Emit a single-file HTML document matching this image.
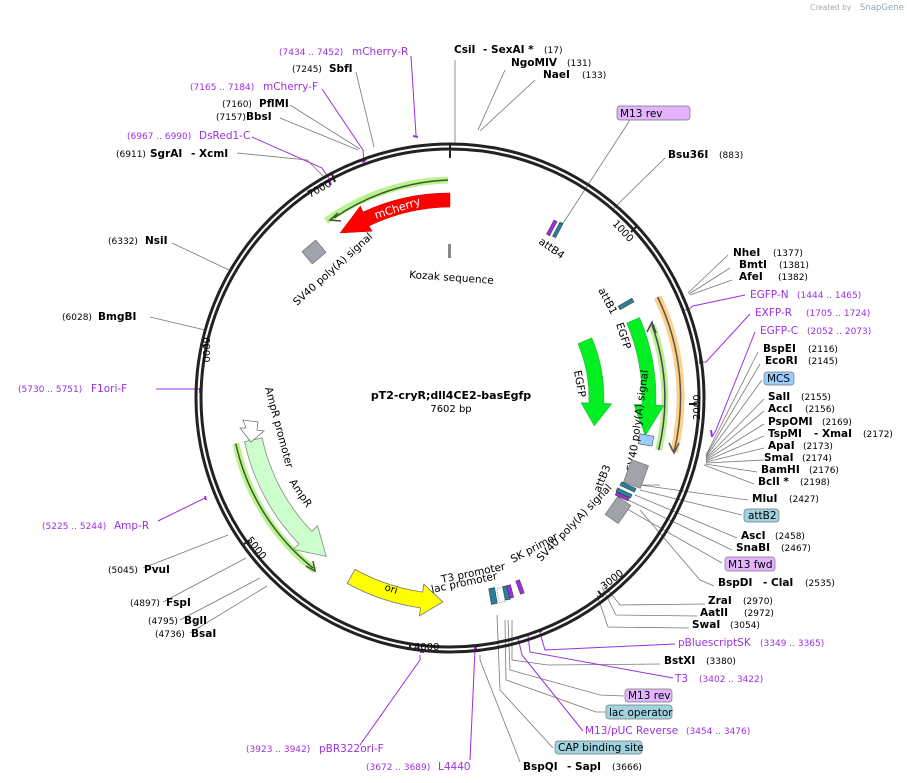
<!DOCTYPE html>
<html><head><meta charset="utf-8"><style>
html,body{margin:0;padding:0;background:#fff;}
svg{display:block;font-family:"DejaVu Sans","Liberation Sans",sans-serif;}
.b{font-weight:bold;font-size:10.5px;fill:#000;}
.n{font-size:9px;fill:#000;}
.p{font-size:9px;fill:#9b30e0;}
.pn{font-size:10.5px;fill:#9b30e0;}
.f{font-size:10.5px;fill:#000;}
.g{stroke:#777;stroke-width:0.8;fill:none;}
.pl{stroke:#9b30e0;stroke-width:1;fill:none;}
</style></head><body>
<svg width="907" height="783" viewBox="0 0 907 783" xmlns="http://www.w3.org/2000/svg">
<rect width="907" height="783" fill="#fff"/>
<text x="810" y="10" font-size="7.5" fill="#aaa">Created by</text><text x="860" y="10" font-size="8.5" fill="#8ab">SnapGene</text>

<g class="g">
<path d="M455,143 L455,60"/>
<path d="M478,130 L505,70"/>
<path d="M480,131 L535,80"/>
<path d="M560,228 L630,120"/>
<path d="M612,210 L665,158"/>
<path d="M688,293 L728,255"/><path d="M689,294 L730,268"/><path d="M690,295 L732,280"/>
<path d="M706,455 L758,352"/><path d="M706,456 L760,364"/><path d="M706,457 L762,380"/>
<path d="M706,458 L764,399"/><path d="M706,459 L764,411"/><path d="M706,460 L764,424"/>
<path d="M706,461 L764,436"/><path d="M706,462 L764,448"/><path d="M706,463 L764,460"/>
<path d="M705,464 L757,472"/><path d="M704,465 L754,484"/>
<path d="M660,485 L640,485 L748,500"/>
<path d="M640,490 L742,515"/>
<path d="M635,495 L737,538"/><path d="M628,500 L732,550"/>
<path d="M620,505 L722,563"/><path d="M640,510 L700,580 L714,586"/>
<path d="M604,585 L620,605 L705,604"/><path d="M602,587 L616,615 L697,616"/><path d="M597,595 L608,627 L689,628"/>
<path d="M512,620 L512,660 L548,665 L660,664"/>
<path d="M508,620 L510,670 L600,695 L624,696"/>
<path d="M505,620 L506,680 L596,712 L606,712"/>
<path d="M497,615 L500,690 L553,748"/>
<path d="M480,655 L480,660 L520,762"/>
<path d="M267,586 L190,633"/><path d="M260,578 L180,620"/><path d="M246,558 L163,602"/><path d="M228,535 L143,568"/>
<path d="M229,270 L172,243"/>
<path d="M205,330 L150,317"/>
<path d="M325,178 L307,160 L237,153"/>
<path d="M358,150 L280,118"/><path d="M360,149 L290,105"/>
<path d="M374,147 L356,72"/>
</g>
<g class="pl">
<path d="M416,137 L416,135 L411,56"/>
<path d="M364,163 L363,150 L322,89"/>
<path d="M330,180 L322,168 L252,137"/>
<path d="M200,392 L200,389 L156,389"/>
<path d="M205,498 L158,521"/>
<path d="M683,310 L688,310 L693,306 L745,295"/>
<path d="M700,362 L706,362 L750,314"/>
<path d="M712,437 L716,430 L755,332"/>
<path d="M540,633 L545,650 L675,644"/>
<path d="M528,636 L530,652 L673,678"/>
<path d="M518,638 L522,655 L583,731"/>
<path d="M475,650 L470,760"/>
<path d="M420,655 L420,660 L360,745"/>
</g>
<g stroke="#9b30e0" stroke-width="2" fill="none">
<path d="M413,136 L418,137"/><path d="M362,162 L366,160"/><path d="M329,179 L331,185"/>
<path d="M200,388 L200,393"/><path d="M205,496 L206,500"/>
<path d="M683,308 L683,313"/><path d="M700,358 L700,364"/><path d="M711,430 L712,437"/>
<path d="M474,648 L477,648"/><path d="M420,652 L424,652"/><path d="M517,638 L520,637"/><path d="M527,635 L531,634"/><path d="M539,632 L542,631"/>
</g>

<circle cx="450" cy="398" r="254" fill="none" stroke="#222" stroke-width="3"/>
<circle cx="450" cy="398" r="249" fill="none" stroke="#222" stroke-width="3"/>
<g stroke="#222" stroke-width="2">
<path d="M450,144 L450,158"/>
<path d="M637,226 L631,232"/><path d="M697,404 L689,404"/><path d="M603,597 L598,591"/>
<path d="M410,650 L410,643"/><path d="M244,544 L250,540"/><path d="M200,345 L207,346"/><path d="M332,174 L335,182"/>
</g>
<g font-size="10" fill="#000">
<text transform="translate(612,224) rotate(47)">1000</text>
<text transform="translate(700,420) rotate(-90)">2000</text>
<text transform="translate(604,590) rotate(-38)">3000</text>
<text x="414" y="650">4000</text>
<text transform="translate(246,540) rotate(52)">5000</text>
<text transform="translate(203,337) rotate(90)">6000</text>
<text transform="translate(310,198) rotate(-30)">7000</text>
</g>

<path d="M448,180 A218,218 0 0 0 326,221" stroke="#b9f28f" stroke-width="7" fill="none"/>
<path d="M448,180 A218,218 0 0 0 334,218" stroke="#3a5a2a" stroke-width="1.5" fill="none"/>
<path d="M338,213 L330,220 L341,221" stroke="#3a5a2a" stroke-width="1.5" fill="none"/>
<path d="M450,193 A205,205 0 0 0 363,212 L360.4,205.9 L340,233 L372.2,231.2 L369,226 A191,191 0 0 1 450,207 Z" fill="#ff0000" stroke="#c00" stroke-width="0.5"/>
<text transform="translate(376,219) rotate(-18)" font-size="11" fill="#fff">mCherry</text>
<rect x="448" y="244" width="3" height="14" fill="#888"/>
<text transform="translate(409,278) rotate(4)" class="f">Kozak sequence</text>
<rect x="-9" y="-8" width="18" height="16" fill="#a0a4aa" stroke="#666" stroke-width="0.6" transform="translate(314,252) rotate(-40)"/>
<text transform="translate(297,306) rotate(-42)" class="f">SV40 poly(A) signal</text>

<path d="M652,325 A215,215 0 0 1 658.6,450" stroke="#b9f28f" stroke-width="7" fill="none"/>
<path d="M652,325 A215,215 0 0 1 658.6,450" stroke="#445" stroke-width="1.5" fill="none"/>
<path d="M647,332 L652,322 L656,333" stroke="#445" stroke-width="1.5" fill="none"/>
<path d="M657.6,297 A231,231 0 0 1 674,452" stroke="#ffd08a" stroke-width="8" fill="none"/>
<path d="M657.6,297 A231,231 0 0 1 674,452" stroke="#555" stroke-width="1.5" fill="none"/>
<path d="M669,443 L674,453 L679,443" stroke="#555" stroke-width="1.5" fill="none"/>
<path d="M639.6,317.5 A206,206 0 0 1 655.9,405.2 L663.9,405.5 L645.3,436 L633.9,404.4 L641.9,404.7 A192,192 0 0 0 626.7,323 Z" fill="#00ee22" stroke="#3a3" stroke-width="0.5"/>
<path d="M591.8,337.8 A154,154 0 0 1 603.9,403.4 L611.9,403.7 L594.3,426 L580.9,402.6 L588.9,402.9 A139,139 0 0 0 578,343.7 Z" fill="#00ee22" stroke="#3a3" stroke-width="0.5"/>
<text transform="translate(616,324) rotate(72)" class="f">EGFP</text>
<text transform="translate(574,371) rotate(80)" class="f">EGFP</text>
<rect x="-7" y="-5" width="14" height="10" fill="#99ccff" stroke="#555" stroke-width="0.6" transform="translate(646,440) rotate(10)"/>
<text transform="translate(634,472) rotate(-82)" class="f">SV40 poly(A) signal</text>
<rect x="-9" y="-12" width="18" height="24" fill="#a0a4aa" stroke="#666" stroke-width="0.6" transform="translate(636,474) rotate(20)"/>
<rect x="-8" y="-11" width="16" height="22" fill="#a0a4aa" stroke="#666" stroke-width="0.6" transform="translate(618,510) rotate(35)"/>
<rect x="-8" y="-2" width="16" height="4" fill="#2a7f9a" stroke="#333" stroke-width="0.5" transform="translate(628,487) rotate(25)"/>
<rect x="-8" y="-2" width="16" height="4" fill="#2a7f9a" stroke="#333" stroke-width="0.5" transform="translate(624,493) rotate(25)"/>
<rect x="-7" y="-2" width="14" height="3" fill="#9b30e0" stroke="#333" stroke-width="0.5" transform="translate(622,497) rotate(25)"/>
<text transform="translate(600,493) rotate(-68)" class="f">attB3</text>
<text transform="translate(541,562) rotate(-46)" class="f">SV40 poly(A) signal</text>
<rect x="-8" y="-2" width="16" height="4" fill="#2a7f9a" stroke="#333" stroke-width="0.5" transform="translate(626,304) rotate(-30)"/>
<text transform="translate(598,290) rotate(62)" class="f">attB1</text>
<rect x="-8" y="-2" width="16" height="3.5" fill="#9b30e0" stroke="#333" stroke-width="0.5" transform="translate(552,228) rotate(-62)"/>
<rect x="-8" y="-2" width="16" height="3.5" fill="#2a7f9a" stroke="#333" stroke-width="0.5" transform="translate(558,230) rotate(-62)"/>
<text transform="translate(538,243) rotate(35)" class="f">attB4</text>

<path d="M235.8,443.5 A219,219 0 0 0 315.2,570.6" stroke="#b9f28f" stroke-width="7" fill="none"/>
<path d="M235.8,443.5 A219,219 0 0 0 313,568" stroke="#3a5a2a" stroke-width="1.5" fill="none"/>
<path d="M306,566 L315,571 L313,561" stroke="#3a5a2a" stroke-width="1.5" fill="none"/>
<path d="M244.6,441.7 A210,210 0 0 0 299,543.9 L293.2,549.4 L326.2,556.4 L317.6,525.8 L311.9,531.4 A192,192 0 0 1 262.2,437.9 Z" fill="#ccffcc" stroke="#888" stroke-width="0.8"/>
<path d="M243,420 L258,422 L257,430 L264,431 L251,442 L240,428 L246,428 Z" fill="#fff" stroke="#777" stroke-width="0.8"/>
<text transform="translate(265,388) rotate(75)" class="f">AmpR promoter</text>
<text transform="translate(289,482) rotate(56)" class="f">AmpR</text>
<path d="M347.2,583.4 A212,212 0 0 0 420.5,607.9 L419.4,615.9 L442.9,601.9 L423.8,584.2 L422.7,592.1 A196,196 0 0 1 355,569.4 Z" fill="#ffff00" stroke="#777" stroke-width="0.8"/>
<text transform="translate(384,590) rotate(18)" font-size="10">ori</text>
<rect x="490" y="588" width="6" height="16" fill="#2a7f9a" stroke="#333" stroke-width="0.5" transform="rotate(-10 493 596)"/>
<rect x="498" y="588" width="6" height="14" fill="#fff" stroke="#555" stroke-width="0.5" stroke-dasharray="1.5,1" transform="rotate(-10 501 595)"/>
<rect x="504" y="586" width="5" height="14" fill="#2a7f9a" stroke="#333" stroke-width="0.5" transform="rotate(-12 506 593)"/>
<rect x="508" y="585" width="4" height="13" fill="#9b30e0" stroke="#333" stroke-width="0.5" transform="rotate(-14 510 591)"/>
<rect x="518" y="580" width="4" height="14" fill="#9b30e0" stroke="#333" stroke-width="0.5" transform="rotate(-20 520 587)"/>
<text transform="translate(442,583) rotate(-12)" class="f">T3 promoter</text>
<text transform="translate(432,593) rotate(-12)" class="f">lac promoter</text>
<text transform="translate(513,563) rotate(-28)" class="f">SK primer</text>

<text x="451" y="399" text-anchor="middle" font-weight="bold" font-size="11">pT2-cryR;dll4CE2-basEgfp</text>
<text x="451" y="412" text-anchor="middle" font-size="10">7602 bp</text>

<text x="279" y="55" class="p">(7434 .. 7452)</text><text x="352" y="55" class="pn">mCherry-R</text>
<text x="292" y="72" class="n">(7245)</text><text x="329" y="72" class="b">SbfI</text>
<text x="190" y="90" class="p">(7165 .. 7184)</text><text x="263" y="90" class="pn">mCherry-F</text>
<text x="222" y="107" class="n">(7160)</text><text x="259" y="107" class="b">PflMI</text>
<text x="216" y="120" class="n">(7157)</text><text x="246" y="120" class="b">BbsI</text>
<text x="127" y="139" class="p">(6967 .. 6990)</text><text x="199" y="139" class="pn">DsRed1-C</text>
<text x="116" y="157" class="n">(6911)</text><text x="150" y="157" class="b">SgrAI</text><text x="191" y="157" class="b">- XcmI</text>
<text x="108" y="244" class="n">(6332)</text><text x="145" y="244" class="b">NsiI</text>
<text x="62" y="320" class="n">(6028)</text><text x="98" y="320" class="b">BmgBI</text>
<text x="18" y="392" class="p">(5730 .. 5751)</text><text x="91" y="392" class="pn">F1ori-F</text>
<text x="42" y="529" class="p">(5225 .. 5244)</text><text x="114" y="529" class="pn">Amp-R</text>
<text x="108" y="573" class="n">(5045)</text><text x="144" y="573" class="b">PvuI</text>
<text x="130" y="606" class="n">(4897)</text><text x="166" y="606" class="b">FspI</text>
<text x="148" y="624" class="n">(4795)</text><text x="184" y="624" class="b">BglI</text>
<text x="155" y="637" class="n">(4736)</text><text x="191" y="637" class="b">BsaI</text>
<text x="246" y="752" class="p">(3923 .. 3942)</text><text x="319" y="752" class="pn">pBR322ori-F</text>
<text x="366" y="770" class="p">(3672 .. 3689)</text><text x="438" y="770" class="pn">L4440</text>
<text x="523" y="770" class="b">BspQI</text><text x="567" y="770" class="b">- SapI</text><text x="612" y="770" class="n">(3666)</text>

<text x="454" y="53" class="b">CsiI</text><text x="483" y="53" class="b">- SexAI *</text><text x="544" y="53" class="n">(17)</text>
<text x="511" y="66" class="b">NgoMIV</text><text x="567" y="66" class="n">(131)</text>
<text x="543" y="78" class="b">NaeI</text><text x="582" y="78" class="n">(133)</text>
<rect x="617" y="106" width="73" height="14" rx="3" fill="#e3b3ff" stroke="#777" stroke-width="0.7"/><text x="620" y="117" font-size="10.5">M13 rev</text>
<text x="668" y="158" class="b">Bsu36I</text><text x="719" y="158" class="n">(883)</text>

<text x="733" y="256" class="b">NheI</text><text x="773" y="256" class="n">(1377)</text>
<text x="739" y="268" class="b">BmtI</text><text x="779" y="268" class="n">(1381)</text>
<text x="739" y="280" class="b">AfeI</text><text x="778" y="280" class="n">(1382)</text>
<text x="750" y="298" class="pn">EGFP-N</text><text x="797" y="298" class="p">(1444 .. 1465)</text>
<text x="755" y="316" class="pn">EXFP-R</text><text x="806" y="316" class="p">(1705 .. 1724)</text>
<text x="760" y="334" class="pn">EGFP-C</text><text x="807" y="334" class="p">(2052 .. 2073)</text>
<text x="763" y="352" class="b">BspEI</text><text x="808" y="352" class="n">(2116)</text>
<text x="765" y="364" class="b">EcoRI</text><text x="808" y="364" class="n">(2145)</text>
<rect x="764" y="372" width="30" height="13" rx="3" fill="#99ccff" stroke="#777" stroke-width="0.7"/><text x="767" y="382" font-size="10.5">MCS</text>
<text x="768" y="400" class="b">SalI</text><text x="801" y="400" class="n">(2155)</text>
<text x="768" y="412" class="b">AccI</text><text x="805" y="412" class="n">(2156)</text>
<text x="768" y="425" class="b">PspOMI</text><text x="822" y="425" class="n">(2169)</text>
<text x="768" y="437" class="b">TspMI</text><text x="814" y="437" class="b">- XmaI</text><text x="863" y="437" class="n">(2172)</text>
<text x="768" y="449" class="b">ApaI</text><text x="803" y="449" class="n">(2173)</text>
<text x="764" y="461" class="b">SmaI</text><text x="802" y="461" class="n">(2174)</text>
<text x="761" y="473" class="b">BamHI</text><text x="809" y="473" class="n">(2176)</text>
<text x="758" y="485" class="b">BclI *</text><text x="800" y="485" class="n">(2198)</text>
<text x="752" y="502" class="b">MluI</text><text x="789" y="502" class="n">(2427)</text>
<rect x="744" y="509" width="35" height="13" rx="3" fill="#9fd3e0" stroke="#777" stroke-width="0.7"/><text x="748" y="519" font-size="10.5">attB2</text>
<text x="741" y="539" class="b">AscI</text><text x="775" y="539" class="n">(2458)</text>
<text x="736" y="551" class="b">SnaBI</text><text x="781" y="551" class="n">(2467)</text>
<rect x="725" y="557" width="50" height="14" rx="3" fill="#e3b3ff" stroke="#777" stroke-width="0.7"/><text x="728" y="568" font-size="10.5">M13 fwd</text>
<text x="718" y="586" class="b">BspDI</text><text x="763" y="586" class="b">- ClaI</text><text x="805" y="586" class="n">(2535)</text>
<text x="708" y="604" class="b">ZraI</text><text x="743" y="604" class="n">(2970)</text>
<text x="700" y="616" class="b">AatII</text><text x="744" y="616" class="n">(2972)</text>
<text x="692" y="628" class="b">SwaI</text><text x="730" y="628" class="n">(3054)</text>
<text x="678" y="646" class="pn">pBluescriptSK</text><text x="760" y="646" class="p">(3349 .. 3365)</text>
<text x="664" y="664" class="b">BstXI</text><text x="706" y="664" class="n">(3380)</text>
<text x="675" y="682" class="pn">T3</text><text x="699" y="682" class="p">(3402 .. 3422)</text>
<rect x="625" y="689" width="47" height="13" rx="3" fill="#e3b3ff" stroke="#777" stroke-width="0.7"/><text x="628" y="699" font-size="10.5">M13 rev</text>
<rect x="606" y="705" width="66" height="14" rx="3" fill="#9fd3e0" stroke="#777" stroke-width="0.7"/><text x="609" y="716" font-size="10.5">lac operator</text>
<text x="585" y="734" class="pn">M13/pUC Reverse</text><text x="686" y="734" class="p">(3454 .. 3476)</text>
<rect x="555" y="741" width="87" height="13" rx="3" fill="#9fd3e0" stroke="#777" stroke-width="0.7"/><text x="558" y="751" font-size="10.5">CAP binding site</text>
</svg>
</body></html>
